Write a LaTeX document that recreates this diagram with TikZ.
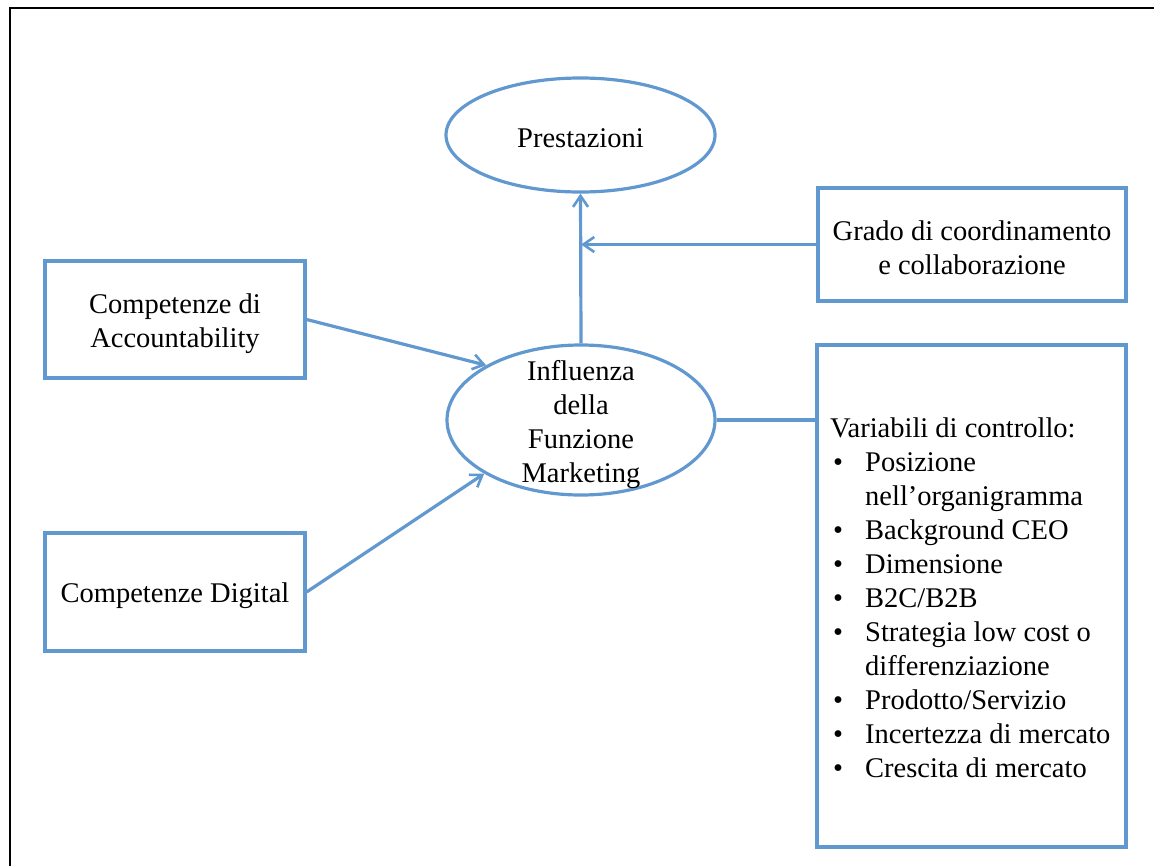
\documentclass[tikz,border=0pt]{standalone}
\usepackage{fontspec}
\setmainfont{Liberation Serif}
\usetikzlibrary{shapes.geometric,arrows.meta}
\definecolor{linkblue}{RGB}{98,152,208}
\tikzset{
  box/.style={draw=linkblue,line width=3.2pt,rectangle,inner sep=0pt},
  oval/.style={draw=linkblue,line width=3.2pt,ellipse,inner sep=0pt},
  txt/.style={inner sep=0pt,align=center,font=\fontsize{28.5}{34}\selectfont},
  link/.style={draw=linkblue,line width=3.2pt},
  arrowlink/.style={link,-{Straight Barb[length=11pt,width=15pt,line width=2.6pt]}}
}
\begin{document}
\begin{tikzpicture}[x=1pt,y=-1pt]
\useasboundingbox (0,0) rectangle (1154,865);
% outer frame
\draw[line width=2pt] (9.5,880) -- (9.5,8) -- (1170,8);
% shapes
\node[oval,minimum width=269pt,minimum height=114pt] (pres) at (580.5,135) {};
\node[oval,minimum width=268pt,minimum height=150pt] (infl) at (581,420) {};
\node[box,minimum width=260pt,minimum height=117pt] (acc) at (175,319.5) {};
\node[box,minimum width=260pt,minimum height=118pt] (dig) at (175,592) {};
\node[box,minimum width=308pt,minimum height=113pt] (grado) at (972,244.5) {};
\node[box,minimum width=309pt,minimum height=502pt] (var) at (971.5,596) {};
% texts
\node[txt] (prestxt) at ([yshift=-3pt]pres.center) {Prestazioni};
\node[txt] (infltxt) at ([yshift=-5pt]infl.center) {Influenza\\della\\Funzione\\Marketing};
\node[txt] (acctxt) at ([yshift=-4pt]acc.center) {Competenze di\\Accountability};
\node[txt] (digtxt) at ([yshift=-4pt]dig.center) {Competenze Digital};
\node[txt] (gradotxt) at ([yshift=-3pt]grado.center) {Grado di coordinamento\\e collaborazione};
\node[txt,anchor=north west,align=left] (varlist) at (830,413) {%
  \begin{tabular}{@{}p{35pt}@{}l@{}}
  \multicolumn{2}{@{}l@{}}{Variabili di controllo:}\\
  \hspace{3pt}\textbullet & Posizione\\
   & nell’organigramma\\
  \hspace{3pt}\textbullet & Background CEO\\
  \hspace{3pt}\textbullet & Dimensione\\
  \hspace{3pt}\textbullet & B2C/B2B\\
  \hspace{3pt}\textbullet & Strategia low cost o\\
   & differenziazione\\
  \hspace{3pt}\textbullet & Prodotto/Servizio\\
  \hspace{3pt}\textbullet & Incertezza di mercato\\
  \hspace{3pt}\textbullet & Crescita di mercato
  \end{tabular}};
% connectors
\draw[arrowlink] (infl.north) -- (pres.south);
\draw[arrowlink] (grado.west) -- (grado.west -| infl.north);
\draw[arrowlink] (acc.east) -- (infl.150);
\draw[arrowlink] (dig.east) -- (infl.209);
\draw[link] (infl.east) -- (infl.east -| var.west);
\end{tikzpicture}
\end{document}
